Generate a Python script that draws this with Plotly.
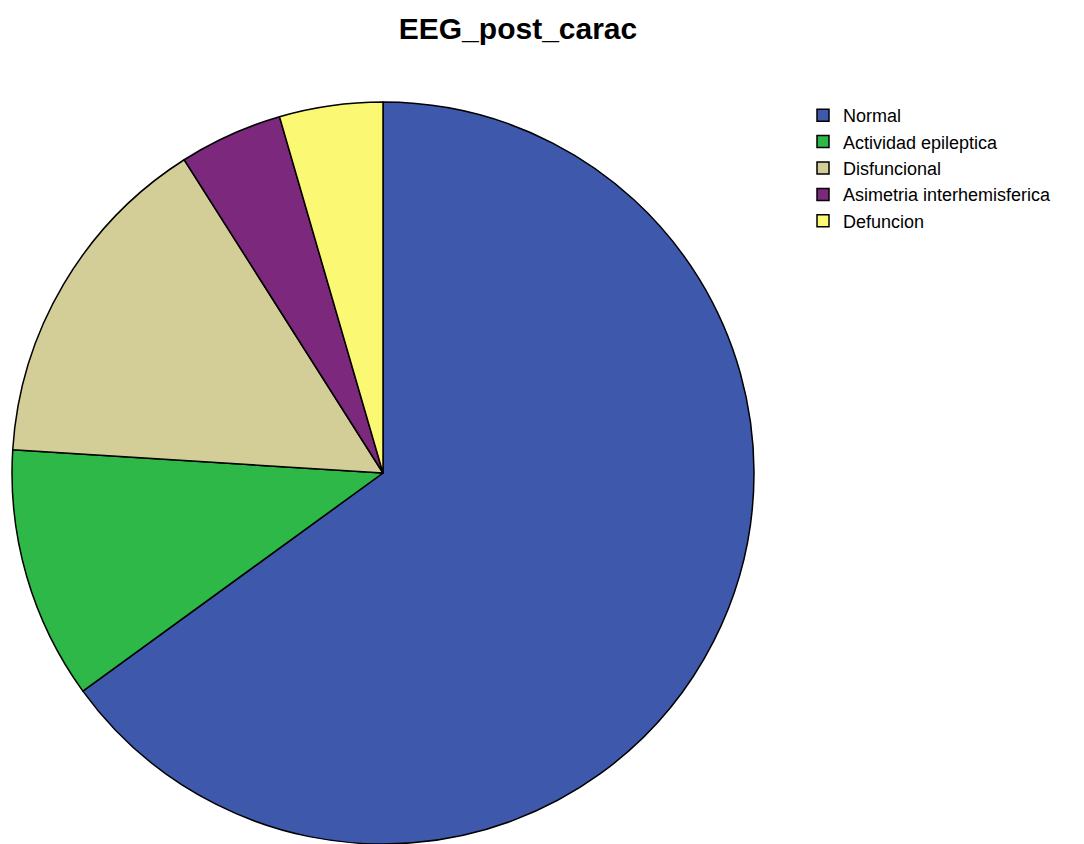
import plotly.graph_objects as go

categories = ["Normal", "Actividad epileptica", "Disfuncional", "Asimetria interhemisferica", "Defuncion"]
percentages = [65.0, 11.0, 15.0, 4.5, 4.5]
colors = ["#3E58AC", "#2EB848", "#D3CE97", "#7C287D", "#FBF873"]

W, H = 1084, 844
cx, cy_top, r = 383, 473, 371

fig = go.Figure(go.Pie(
    labels=categories,
    values=percentages,
    sort=False,
    direction="clockwise",
    rotation=0,
    textinfo="none",
    hoverinfo="label+percent",
    marker=dict(colors=colors, line=dict(color="black", width=1.5)),
    domain=dict(x=[(cx - r) / W, (cx + r) / W],
                y=[(H - cy_top - r) / H, (H - cy_top + r) / H]),
))

fig.update_layout(
    width=W, height=H,
    margin=dict(l=0, r=0, t=0, b=0),
    paper_bgcolor="white",
    plot_bgcolor="white",
    font=dict(family="Liberation Sans, Arial, sans-serif", color="black"),
    title=dict(text="<b>EEG_post_carac</b>", x=518 / W, xanchor="center",
               y=1 - 28 / H, yanchor="middle",
               font=dict(size=30, family="Liberation Sans, Arial, sans-serif", color="black")),
    legend=dict(x=803 / W, xanchor="left", y=1 - 97 / H, yanchor="top",
                font=dict(size=18, color="black"),
                bgcolor="rgba(0,0,0,0)", borderwidth=0),
    showlegend=True,
)

fig.write_html("out.html")
